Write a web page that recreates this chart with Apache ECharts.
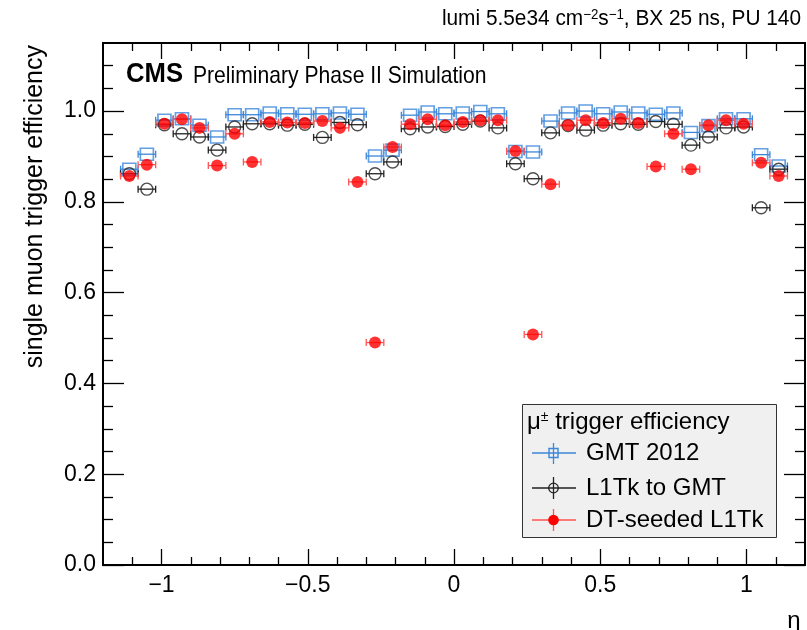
<!DOCTYPE html>
<html>
<head>
<meta charset="utf-8">
<script src="https://cdn.jsdelivr.net/npm/echarts@6/dist/echarts.min.js"></script>
<style>
html,body{margin:0;padding:0;background:#fff;}
#chart{width:807px;height:630px;}
</style>
</head>
<body>
<div id="chart"></div>
<script>
// ---- data ----
const etaCenters = [-1.11,-1.05,-0.99,-0.93,-0.87,-0.81,-0.75,-0.69,-0.63,-0.57,-0.51,-0.45,-0.39,-0.33,-0.27,-0.21,-0.15,-0.09,-0.03,
                     0.03,0.09,0.15,0.21,0.27,0.33,0.39,0.45,0.51,0.57,0.63,0.69,0.75,0.81,0.87,0.93,0.99,1.05,1.11];
const binHalfWidth = 0.03;
const gmt2012 = [0.872,0.905,0.980,0.983,0.969,0.943,0.992,0.992,0.996,0.994,0.993,0.994,0.996,0.993,0.901,0.914,0.991,0.998,0.994,
                 0.996,0.999,0.994,0.911,0.910,0.978,0.996,1.000,0.994,0.998,0.996,0.993,0.996,0.953,0.968,0.983,0.983,0.904,0.879];
const l1tkToGmt = [0.862,0.828,0.970,0.950,0.943,0.914,0.965,0.972,0.972,0.969,0.971,0.942,0.975,0.970,0.862,0.888,0.961,0.965,0.966,
                   0.971,0.978,0.963,0.884,0.851,0.952,0.968,0.958,0.969,0.972,0.971,0.977,0.971,0.925,0.943,0.963,0.965,0.787,0.872];
const dtSeeded = [0.857,0.882,0.972,0.982,0.963,0.880,0.950,0.888,0.976,0.975,0.974,0.978,0.963,0.844,0.490,0.921,0.971,0.982,0.969,
                  0.976,0.980,0.980,0.912,0.508,0.839,0.969,0.980,0.974,0.983,0.974,0.878,0.950,0.872,0.969,0.980,0.972,0.886,0.857];
const xMajorTicks = [-1, -0.5, 0, 0.5, 1];
const xMinorTicks = [-1.1,-0.9,-0.8,-0.7,-0.6,-0.4,-0.3,-0.2,-0.1,0.1,0.2,0.3,0.4,0.6,0.7,0.8,0.9,1.1];
const yMajorTicks = [0, 0.2, 0.4, 0.6, 0.8, 1.0];
const yMinorTicks = [0.05,0.1,0.15,0.25,0.3,0.35,0.45,0.5,0.55,0.65,0.7,0.75,0.85,0.9,0.95,1.05,1.1];
const seriesNames = ['GMT 2012', 'L1Tk to GMT', 'DT-seeded L1Tk'];

// ---- styling ----
const FONT = 'Liberation Sans, Arial, Helvetica, sans-serif';
const BLUE = '#3d87d9', BLACK = '#222', RED = '#ff0000', RED_BAR = '#ff5555';

function pairs(vals) { return etaCenters.map((x, i) => [x, vals[i]]); }

function errBarSeries(vals, color) {
  return {
    type: 'custom', xAxisIndex: 0, yAxisIndex: 0, silent: true,
    data: pairs(vals),
    renderItem: function (params, api) {
      const x = api.value(0), y = api.value(1);
      const p1 = api.coord([x - binHalfWidth, y]);
      const p2 = api.coord([x + binHalfWidth, y]);
      const st = { stroke: color, lineWidth: 1.3 };
      return { type: 'group', children: [
        { type: 'line', shape: { x1: p1[0], y1: p1[1], x2: p2[0], y2: p2[1] }, style: st },
        { type: 'line', shape: { x1: p1[0], y1: p1[1] - 3.5, x2: p1[0], y2: p1[1] + 3.5 }, style: st },
        { type: 'line', shape: { x1: p2[0], y1: p2[1] - 3.5, x2: p2[0], y2: p2[1] + 3.5 }, style: st }
      ]};
    },
    z: 2
  };
}

const xCommon = { type: 'value', min: -1.2, max: 1.2, splitLine: { show: false }, axisLine: { show: false, onZero: false } };
const yCommon = { type: 'value', min: 0, max: 1.15, splitLine: { show: false }, axisLine: { show: false, onZero: false } };
const tickLine = { color: '#000', width: 1.3 };

const chart = echarts.init(document.getElementById('chart'), null, { renderer: 'canvas' });
const option = {
  animation: false,
  backgroundColor: '#fff',
  grid: { left: 103, top: 43, width: 702, height: 522, show: true, borderColor: '#000', borderWidth: 2, backgroundColor: 'transparent' },
  xAxis: [
    Object.assign({}, xCommon, { position: 'bottom',
      axisTick: { show: true, inside: true, length: 16, lineStyle: tickLine, customValues: xMajorTicks },
      axisLabel: { show: true, margin: 9, color: '#000', fontSize: 23, fontFamily: FONT, customValues: xMajorTicks,
        formatter: v => (v < 0 ? '\u2212' : '') + String(Math.abs(v)) } }),
    Object.assign({}, xCommon, { position: 'bottom',
      axisTick: { show: true, inside: true, length: 8, lineStyle: tickLine, customValues: xMinorTicks },
      axisLabel: { show: false } }),
    Object.assign({}, xCommon, { position: 'top',
      axisTick: { show: true, inside: true, length: 16, lineStyle: tickLine, customValues: xMajorTicks },
      axisLabel: { show: false } }),
    Object.assign({}, xCommon, { position: 'top',
      axisTick: { show: true, inside: true, length: 8, lineStyle: tickLine, customValues: xMinorTicks },
      axisLabel: { show: false } })
  ],
  yAxis: [
    Object.assign({}, yCommon, { position: 'left',
      axisTick: { show: true, inside: true, length: 21, lineStyle: tickLine, customValues: yMajorTicks },
      axisLabel: { show: true, margin: 7, color: '#000', fontSize: 23, fontFamily: FONT, customValues: yMajorTicks,
        formatter: v => v.toFixed(1) } }),
    Object.assign({}, yCommon, { position: 'left',
      axisTick: { show: true, inside: true, length: 10, lineStyle: tickLine, customValues: yMinorTicks },
      axisLabel: { show: false } }),
    Object.assign({}, yCommon, { position: 'right',
      axisTick: { show: true, inside: true, length: 21, lineStyle: tickLine, customValues: yMajorTicks },
      axisLabel: { show: false } }),
    Object.assign({}, yCommon, { position: 'right',
      axisTick: { show: true, inside: true, length: 10, lineStyle: tickLine, customValues: yMinorTicks },
      axisLabel: { show: false } })
  ],
  series: [
    errBarSeries(gmt2012, BLUE),
    { type: 'scatter', name: seriesNames[0], xAxisIndex: 0, yAxisIndex: 0, data: pairs(gmt2012), symbol: 'rect', symbolSize: [13, 12],
      itemStyle: { color: 'rgba(0,0,0,0)', borderColor: BLUE, borderWidth: 1.6 }, z: 3 },
    errBarSeries(l1tkToGmt, BLACK),
    { type: 'scatter', name: seriesNames[1], xAxisIndex: 0, yAxisIndex: 0, data: pairs(l1tkToGmt), symbol: 'circle', symbolSize: 12,
      itemStyle: { color: 'rgba(0,0,0,0)', borderColor: BLACK, borderWidth: 1.4 }, z: 4 },
    errBarSeries(dtSeeded, RED_BAR),
    { type: 'scatter', name: seriesNames[2], xAxisIndex: 0, yAxisIndex: 0, data: pairs(dtSeeded), symbol: 'circle', symbolSize: 12,
      itemStyle: { color: RED, borderWidth: 0 }, z: 5 }
  ],
  graphic: [
    // top-right label
    { type: 'text', x: 801, y: 19, scaleX: 0.947, z: 10, style: {
        text: 'lumi 5.5e34 cm{s|\u22122}s{s|\u22121}, BX 25 ns, PU 140',
        align: 'right', verticalAlign: 'middle', fill: '#000', font: '22px ' + FONT,
        rich: { s: { fontSize: 14, fontFamily: FONT, verticalAlign: 'top', padding: [0, 0, 8, 0] } } } },
    // CMS label
    { type: 'text', x: 126, y: 75, z: 10, scaleX: 0.95, style: {
        text: 'CMS', verticalAlign: 'middle', fill: '#000', font: 'bold 27px ' + FONT } },
    { type: 'text', x: 193, y: 76, z: 10, scaleX: 0.88, style: {
        text: 'Preliminary Phase II Simulation', verticalAlign: 'middle', fill: '#000', font: '24px ' + FONT } },
    // y axis title
    { type: 'text', x: 35, y: 45, rotation: Math.PI / 2, z: 10, style: {
        text: 'single muon trigger efficiency', align: 'right', verticalAlign: 'middle', fill: '#000', font: '25px ' + FONT } },
    // x axis title
    { type: 'text', x: 794, y: 621, z: 10, style: { text: '\u03b7', align: 'center', verticalAlign: 'middle', fill: '#000', font: '24px ' + FONT } },
    // legend box
    { type: 'rect', z: 10, shape: { x: 522.5, y: 404.5, width: 254, height: 133 }, style: { fill: '#f0f0f0', stroke: '#333', lineWidth: 1 } },
    { type: 'text', x: 527, y: 422, z: 11, style: {
        text: '\u03bc{s|\u00b1} trigger efficiency', verticalAlign: 'middle', fill: '#000', font: '24px ' + FONT,
        rich: { s: { fontSize: 14, fontFamily: FONT, verticalAlign: 'top', padding: [0, 0, 8, 0] } } } },
    // entry 1
    { type: 'line', z: 11, shape: { x1: 532, y1: 453, x2: 576, y2: 453 }, style: { stroke: BLUE, lineWidth: 1.3 } },
    { type: 'line', z: 11, shape: { x1: 553.5, y1: 443, x2: 553.5, y2: 464 }, style: { stroke: BLUE, lineWidth: 1.3 } },
    { type: 'rect', z: 12, shape: { x: 549, y: 448.5, width: 9, height: 9 }, style: { fill: 'none', stroke: BLUE, lineWidth: 1.4 } },
    { type: 'text', x: 586, y: 453, z: 11, style: { text: seriesNames[0], verticalAlign: 'middle', fill: '#000', font: '24px ' + FONT } },
    // entry 2
    { type: 'line', z: 11, shape: { x1: 532, y1: 488, x2: 576, y2: 488 }, style: { stroke: BLACK, lineWidth: 1.3 } },
    { type: 'line', z: 11, shape: { x1: 553.5, y1: 477, x2: 553.5, y2: 499 }, style: { stroke: BLACK, lineWidth: 1.3 } },
    { type: 'circle', z: 12, shape: { cx: 553.5, cy: 488, r: 4.8 }, style: { fill: 'none', stroke: BLACK, lineWidth: 1.3 } },
    { type: 'text', x: 586, y: 488, z: 11, style: { text: seriesNames[1], verticalAlign: 'middle', fill: '#000', font: '24px ' + FONT } },
    // entry 3
    { type: 'line', z: 11, shape: { x1: 532, y1: 520, x2: 576, y2: 520 }, style: { stroke: RED_BAR, lineWidth: 1.3 } },
    { type: 'line', z: 11, shape: { x1: 553.5, y1: 509, x2: 553.5, y2: 531 }, style: { stroke: RED_BAR, lineWidth: 1.3 } },
    { type: 'circle', z: 12, shape: { cx: 553.5, cy: 520, r: 5.3 }, style: { fill: RED } },
    { type: 'text', x: 586, y: 520, z: 11, style: { text: seriesNames[2], verticalAlign: 'middle', fill: '#000', font: '24px ' + FONT } }
  ]
};
chart.setOption(option);
</script>
</body>
</html>
